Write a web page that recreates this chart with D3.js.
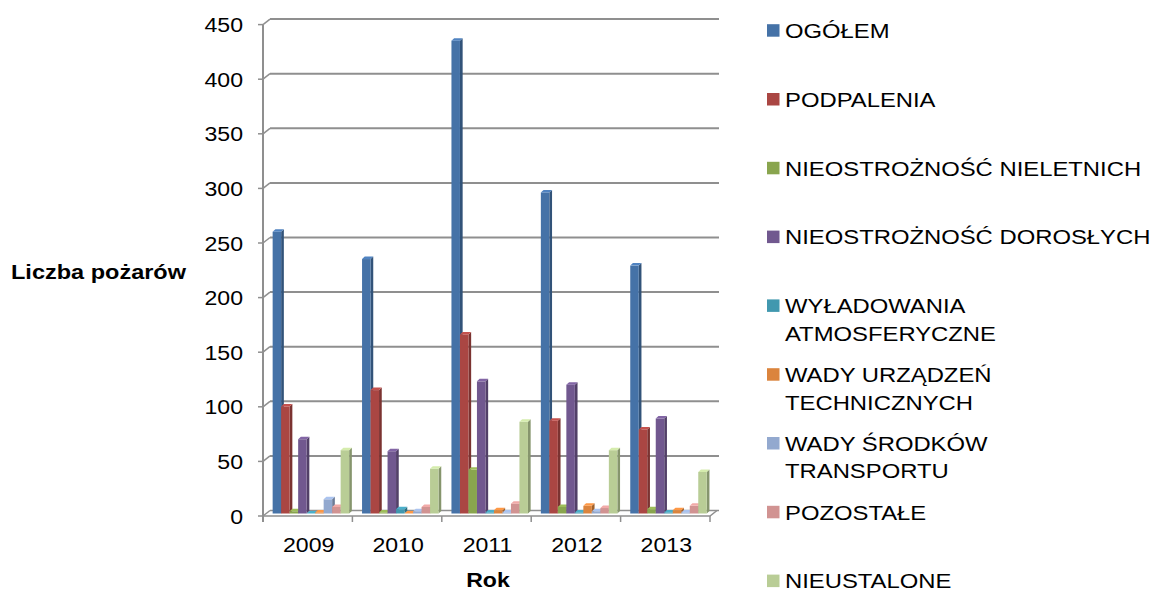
<!DOCTYPE html>
<html>
<head>
<meta charset="utf-8">
<script src="https://cdn.jsdelivr.net/npm/d3@7"></script>
<style>
  html, body { margin: 0; padding: 0; background: #ffffff; }
  svg { display: block; }
  text { font-family: "Liberation Sans", Arial, sans-serif; fill: #000; }
</style>
</head>
<body>
<script>
// ---------- data ----------
const years = ["2009", "2010", "2011", "2012", "2013"];
const seriesNames = [
  "OGÓŁEM",
  "PODPALENIA",
  "NIEOSTROŻNOŚĆ NIELETNICH",
  "NIEOSTROŻNOŚĆ DOROSŁYCH",
  "WYŁADOWANIA ATMOSFERYCZNE",
  "WADY URZĄDZEŃ TECHNICZNYCH",
  "WADY ŚRODKÓW TRANSPORTU",
  "POZOSTAŁE",
  "NIEUSTALONE"
];
const ogolem       = [258, 233, 433, 294, 227];
const podpalenia   = [98, 113, 164, 85, 77];
const nieletnich   = [2, 1, 40, 6, 4];
const doroslych    = [68, 57, 121, 118, 87];
const wyladowania  = [0, 4, 1, 1, 1];
const urzadzen     = [1, 0, 3, 7, 3];
const transportu   = [13, 2, 1, 2, 1];
const pozostale    = [6, 6, 9, 5, 7];
const nieustalone  = [58, 41, 84, 58, 38];
const seriesValues = [ogolem, podpalenia, nieletnich, doroslych, wyladowania,
                      urzadzen, transportu, pozostale, nieustalone];
const seriesColors = ["#4572A7", "#AA4643", "#89A54E", "#71588F", "#4198AF",
                      "#DB843D", "#93A9CF", "#D19392", "#B9CD96"];
const yTicks = [0, 50, 100, 150, 200, 250, 300, 350, 400, 450];
const yTitle = "Liczba pożarów";
const xTitle = "Rok";

// ---------- layout ----------
const W = 1153, H = 592;
const SX = 1.1;            // horizontal stretch of axis text
const SXL = 1.135;         // horizontal stretch of legend text
const FS = 21;             // font size
const BACK = {dx: 7, dy: -5.5};
const BARP = {dx: 3.2, dy: -2.5};
const DEPTH = {dx: 2.7, dy: -2.5};
const GRID = "#8f8f8f";

const svg = d3.select("body").append("svg").attr("width", W).attr("height", H);

const x0 = d3.scaleBand().domain(years).range([263, 710]);
const x1 = d3.scaleBand().domain(d3.range(seriesNames.length)).range([0, 76.5]);
const y = d3.scaleLinear().domain([0, 450]).range([516, 24.6]);

function addText(g, str, x, yy, anchor, bold, sx) {
  return g.append("text")
    .attr("transform", `translate(${x},${yy}) scale(${sx || SX},1)`)
    .attr("text-anchor", anchor)
    .style("font-size", FS + "px")
    .style("font-weight", bold ? "bold" : "normal")
    .text(str);
}

// ---------- back-wall grid lines ----------
const grid = svg.append("g");
yTicks.forEach(t => {
  grid.append("line")
    .attr("x1", x0.range()[0] + BACK.dx).attr("x2", x0.range()[1] + BACK.dx + 2)
    .attr("y1", y(t) + BACK.dy).attr("y2", y(t) + BACK.dy)
    .attr("stroke", GRID).attr("stroke-width", t === 0 ? 1.5 : 2);
  grid.append("line")
    .attr("x1", x0.range()[0]).attr("y1", y(t))
    .attr("x2", x0.range()[0] + BACK.dx).attr("y2", y(t) + BACK.dy)
    .attr("stroke", GRID).attr("stroke-width", 1.5);
  grid.append("line")
    .attr("x1", x0.range()[0] - 5).attr("x2", x0.range()[0])
    .attr("y1", y(t)).attr("y2", y(t))
    .attr("stroke", GRID).attr("stroke-width", 1.5);
});

// floor
const fx0 = x0.range()[0], fx1 = x0.range()[1];
svg.append("path")
  .attr("d", `M${fx0},${y(0)} L${fx1},${y(0)} L${fx1 + BACK.dx},${y(0) + BACK.dy}`)
  .attr("fill", "none").attr("stroke", GRID).attr("stroke-width", 1.5);

// vertical axis line
svg.append("line")
  .attr("x1", fx0).attr("x2", fx0)
  .attr("y1", y(450)).attr("y2", y(0) + 6)
  .attr("stroke", GRID).attr("stroke-width", 2);

// category ticks
x0.domain().forEach((d, i) => {
  if (i > 0) {
    svg.append("line").attr("x1", x0(d)).attr("x2", x0(d))
      .attr("y1", y(0)).attr("y2", y(0) + 6)
      .attr("stroke", GRID).attr("stroke-width", 1.5);
  }
});
svg.append("line").attr("x1", fx1).attr("x2", fx1)
  .attr("y1", y(0)).attr("y2", y(0) + 6)
  .attr("stroke", GRID).attr("stroke-width", 1.5);

// ---------- bars ----------
const bars = svg.append("g");
const base = y(0) + BARP.dy;
years.forEach((yr, j) => {
  const gx = x0(yr) + (x0.bandwidth() - 76.5) / 2 + BARP.dx;
  seriesValues.forEach((vals, i) => {
    const v = vals[j];
    const c = d3.color(seriesColors[i]);
    const bx = gx + x1(i);
    const bw = x1.bandwidth();
    const top = y(v) + BARP.dy;
    const g = bars.append("g");
    g.append("path")
      .attr("d", `M${bx + bw},${top} L${bx + bw + DEPTH.dx},${top + DEPTH.dy} L${bx + bw + DEPTH.dx},${base + DEPTH.dy} L${bx + bw},${base} Z`)
      .attr("fill", c.darker(0.9));
    g.append("rect")
      .attr("x", bx).attr("y", top)
      .attr("width", bw).attr("height", Math.max(0, base - top))
      .attr("fill", c);
    g.append("path")
      .attr("d", `M${bx},${top} L${bx + DEPTH.dx},${top + DEPTH.dy} L${bx + bw + DEPTH.dx},${top + DEPTH.dy} L${bx + bw},${top} Z`)
      .attr("fill", c.brighter(0.4));
  });
});

// ---------- labels ----------
const labels = svg.append("g");
yTicks.forEach(t => addText(labels, String(t), 243, y(t) + 7.5, "end", false));
years.forEach(yr => addText(labels, yr, x0(yr) + x0.bandwidth() / 2 + 1, 552, "middle", false));
addText(labels, xTitle, 488, 587, "middle", true);
addText(labels, yTitle, 11, 279, "start", true, 1.12);

// ---------- legend ----------
const legend = svg.append("g");
const lx = 767, ltx = 785, maxW = 368 / SXL;
seriesNames.forEach((name, i) => {
  const by = 38 + i * 68.8;
  legend.append("rect").attr("x", lx).attr("y", by - 13.8)
    .attr("width", 12.5).attr("height", 12.5).attr("fill", seriesColors[i]);
  const words = name.split(" ");
  let lines = [], cur = "";
  const probe = legend.append("text").style("font-size", FS + "px");
  words.forEach(w => {
    const test = cur ? cur + " " + w : w;
    probe.text(test);
    if (probe.node().getComputedTextLength() > maxW && cur) { lines.push(cur); cur = w; }
    else cur = test;
  });
  lines.push(cur);
  probe.remove();
  lines.forEach((ln, k) => addText(legend, ln, ltx, by + k * 27.5, "start", false, SXL));
});
</script>
</body>
</html>
